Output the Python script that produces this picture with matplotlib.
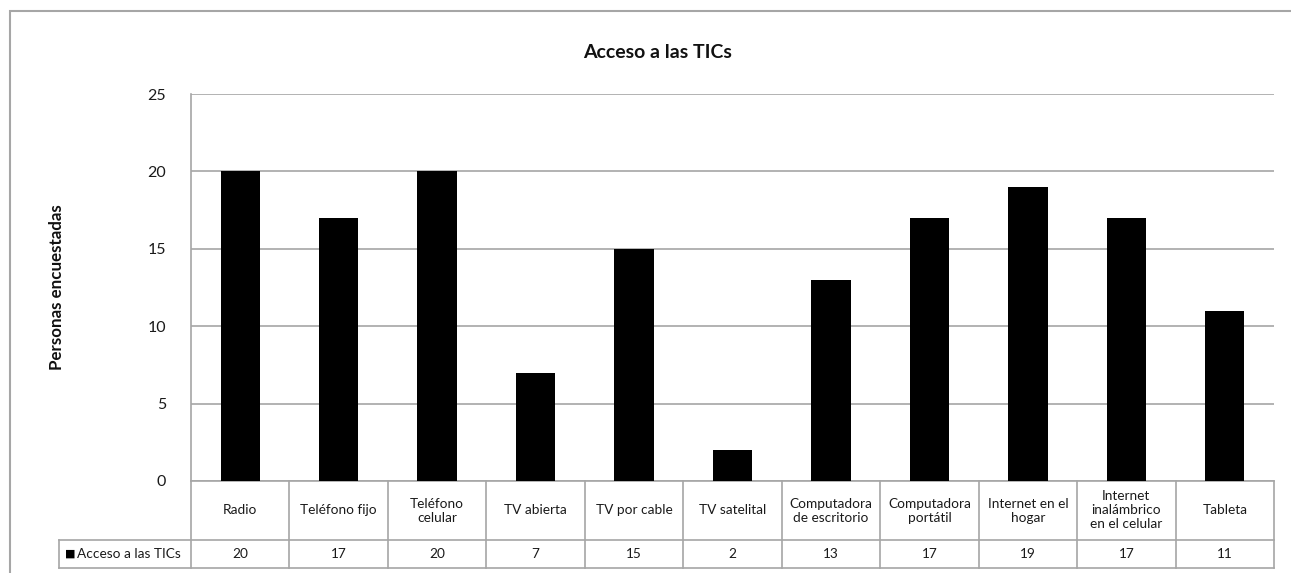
import matplotlib
matplotlib.use("Agg")
import matplotlib.pyplot as plt
from matplotlib.patches import Rectangle
from matplotlib.lines import Line2D

# Survey results: number of respondents with access to each ICT
categories = [
    "Radio", "Teléfono fijo", "Teléfono\ncelular", "TV abierta", "TV por cable",
    "TV satelital", "Computadora\nde escritorio", "Computadora\nportátil",
    "Internet en el\nhogar", "Internet\ninalámbrico\nen el celular", "Tableta",
]
values = [20, 17, 20, 7, 15, 2, 13, 17, 19, 17, 11]
series_name = "Acceso a las TICs"
y_ticks = [0, 5, 10, 15, 20, 25]

plt.rcParams["font.family"] = ["Lato", "DejaVu Sans"]

W, H = 1291, 573
fig = plt.figure(figsize=(W / 100, H / 100), dpi=100)

# outer chart frame (runs off the right and bottom edges)
fig.patches.append(Rectangle((10 / W, -0.1), 1.2, 1 - 11 / H + 0.1,
                             transform=fig.transFigure, fill=False,
                             edgecolor="#a6a6a6", linewidth=1.5))

left, right, top, bottom = 191, 1274, 94, 481
ax = fig.add_axes([left / W, 1 - bottom / H, (right - left) / W, (bottom - top) / H])

n = len(categories)
x = list(range(n))
ax.bar(x, values, width=0.4, color="black", zorder=3)

ax.set_xlim(-0.5, n - 0.5)
ax.set_ylim(0, 25)
ax.set_yticks(y_ticks)
ax.set_yticklabels([str(t) for t in y_ticks], fontsize=11.5, color="#1a1a1a")
ax.tick_params(axis="y", length=0, pad=18)
ax.set_xticks([])
ax.grid(axis="y", color="#a6a6a6", linewidth=1.2, zorder=0)
ax.set_axisbelow(True)
for side in ("top", "right", "bottom"):
    ax.spines[side].set_visible(False)
ax.spines["left"].set_color("#a6a6a6")
ax.spines["left"].set_linewidth(1.2)

fig.text(658 / W, 1 - 52 / H, series_name,
         fontsize=14, fontweight="bold", ha="center", va="center", color="#111111")
fig.text(57 / W, 1 - 287 / H, "Personas encuestadas", rotation=90, fontsize=12.2,
         fontweight="bold", ha="center", va="center", color="#111111")

# data table beneath the plot
tr = ax.get_xaxis_transform()
ax_h = bottom - top
y_row1 = -(540 - bottom) / ax_h
y_row2 = -(568 - bottom) / ax_h
x_legend = -0.5 + (59 - left) / ((right - left) / n)
grey = "#a6a6a6"

def hline(x0, x1, y):
    ax.add_line(Line2D([x0, x1], [y, y], transform=tr, color=grey, lw=1.2, clip_on=False))

def vline(xv, y0, y1):
    ax.add_line(Line2D([xv, xv], [y0, y1], transform=tr, color=grey, lw=1.2, clip_on=False))

hline(-0.5, n - 0.5, 0)
hline(x_legend, n - 0.5, y_row1)
hline(x_legend, n - 0.5, y_row2)
for i in range(n + 1):
    vline(i - 0.5, 0, y_row2)
vline(x_legend, y_row1, y_row2)

for i, (cat, val) in enumerate(zip(categories, values)):
    ax.text(i, y_row1 / 2, cat, transform=tr, ha="center", va="center",
            fontsize=9.8, color="#1a1a1a", linespacing=1.2, clip_on=False)
    ax.text(i, (y_row1 + y_row2) / 2, str(val), transform=tr, ha="center",
            va="center", fontsize=9.8, color="#1a1a1a", clip_on=False)

# legend key in the table's first cell
ax.text(x_legend + 0.06, (y_row1 + y_row2) / 2, "\u25A0", transform=tr, ha="left",
        va="center", fontsize=8, color="black", family="DejaVu Sans", clip_on=False)
ax.text(x_legend + 0.18, (y_row1 + y_row2) / 2, series_name, transform=tr,
        ha="left", va="center", fontsize=9.8, color="#1a1a1a", clip_on=False)

fig.savefig("out.png", dpi=100, facecolor="white")
